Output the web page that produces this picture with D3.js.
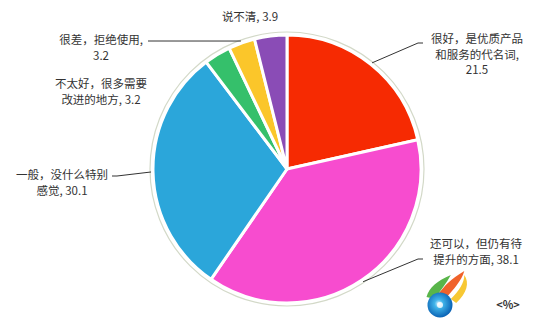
<!DOCTYPE html>
<html>
  <head>
    <meta charset="utf-8" />
    <style>
      body {
        margin: 0;
        background: #fff;
      }
      svg text {
        font-family: "Noto Sans CJK SC", "Noto Sans", sans-serif;
        fill: #333;
      }
    </style>
    <script src="https://d3js.org/d3.v7.min.js"></script>
  </head>
  <body>
    <script>
      const width = 550;
      const height = 326;

      // data, clockwise from 12 o'clock
      const categories = [
        "很好，是优质产品和服务的代名词",
        "还可以，但仍有待提升的方面",
        "一般，没什么特别感觉",
        "不太好，很多需要改进的地方",
        "很差，拒绝使用",
        "说不清",
      ];
      const values = [21.5, 38.1, 30.1, 3.2, 3.2, 3.9];
      const colors = ["#f62a02", "#f74ccf", "#2ba6da", "#35c06b", "#fbc62a", "#8a4cb6"];
      const labelLines = [
        ["很好，是优质产品", "和服务的代名词,", "21.5"],
        ["还可以，但仍有待", "提升的方面, 38.1"],
        ["一般，没什么特别", "感觉, 30.1"],
        ["不太好，很多需要", "改进的地方, 3.2"],
        ["很差，拒绝使用,", "3.2"],
        ["说不清, 3.9"],
      ];
      const unitLabel = "<%>";

      const cx = 287;
      const cy = 169;
      const radius = 134;
      const lineGap = 15.5;

      // label anchors (center x, first baseline) and leader start, if any
      const labelPos = [
        { x: 477, y: 43, lead: [423, 43] },
        { x: 476, y: 248, lead: [423, 259] },
        { x: 62, y: 179, lead: [112, 176] },
        { x: 101, y: 88, lead: null },
        { x: 101, y: 44, lead: [148, 41] },
        { x: 250, y: 21, lead: null },
      ];

      const svg = d3
        .select("body")
        .append("svg")
        .attr("width", width)
        .attr("height", height);

      const pie = d3
        .pie()
        .sort(null)
        .value((d) => d);
      const arcs = pie(values);

      const arc = d3.arc().innerRadius(0).outerRadius(radius);

      const g = svg.append("g").attr("transform", `translate(${cx},${cy})`);

      // faint outer ring
      g.append("circle")
        .attr("r", radius + 3)
        .attr("fill", "#fff")
        .attr("stroke", "#d3d9c8")
        .attr("stroke-width", 1.2);

      g.selectAll("path.slice")
        .data(arcs)
        .enter()
        .append("path")
        .attr("class", "slice")
        .attr("d", arc)
        .attr("fill", (d, i) => colors[i])
        .attr("stroke", "#fff")
        .attr("stroke-width", 3)
        .attr("stroke-linejoin", "round");

      // leader lines
      arcs.forEach((d, i) => {
        const p = labelPos[i];
        if (!p.lead) return;
        const mid = (d.startAngle + d.endAngle) / 2;
        const px = cx + (radius + 2) * Math.sin(mid);
        const py = cy - (radius + 2) * Math.cos(mid);
        const dir = p.lead[0] > cx ? -1 : 1;
        svg
          .append("polyline")
          .attr(
            "points",
            [
              [p.lead[0], p.lead[1]],
              [p.lead[0] + dir * 5, p.lead[1]],
              [px, py],
            ].join(" ")
          )
          .attr("fill", "none")
          .attr("stroke", "#333")
          .attr("stroke-width", 1);
      });

      // labels, one text per line
      labelLines.forEach((lines, i) => {
        const p = labelPos[i];
        lines.forEach((line, j) => {
          svg
            .append("text")
            .attr("x", p.x)
            .attr("y", p.y + j * lineGap)
            .attr("text-anchor", "middle")
            .style("font-size", "11.5px")
            .text(line);
        });
      });

      // small logo, bottom right
      const defs = svg.append("defs");
      const grad = defs
        .append("radialGradient")
        .attr("id", "disc")
        .attr("cx", "45%")
        .attr("cy", "45%")
        .attr("r", "55%");
      grad.append("stop").attr("offset", "0%").attr("stop-color", "#e8f6ff");
      grad.append("stop").attr("offset", "30%").attr("stop-color", "#41b5ea");
      grad.append("stop").attr("offset", "100%").attr("stop-color", "#0a63b5");

      const logo = svg.append("g").attr("transform", "translate(440,305)");
      const flames = logo.append("g").attr("transform", "scale(1.35,1)");
      flames.append("path")
        .attr("d", "M8,-6 C14,-14 18,-22 18,-30 C22,-22 20,-12 12,-2 Z")
        .attr("fill", "#f7c834");
      flames.append("path")
        .attr("d", "M-2,-10 C4,-20 8,-26 18,-34 C16,-24 10,-16 4,-6 Z")
        .attr("fill", "#f0622a");
      flames.append("path")
        .attr("d", "M-10,-8 C-8,-18 -2,-24 8,-30 C5,-22 0,-14 -4,-6 Z")
        .attr("fill", "#59b54a");
      logo.append("circle").attr("r", 12.5).attr("fill", "url(#disc)");
      logo.append("circle").attr("r", 3).attr("fill", "#fff").attr("opacity", 0.8);

      svg
        .append("text")
        .attr("x", 508)
        .attr("y", 309)
        .attr("text-anchor", "middle")
        .style("font-size", "11px")
        .style("font-weight", "bold")
        .text(unitLabel);
    </script>
  </body>
</html>
